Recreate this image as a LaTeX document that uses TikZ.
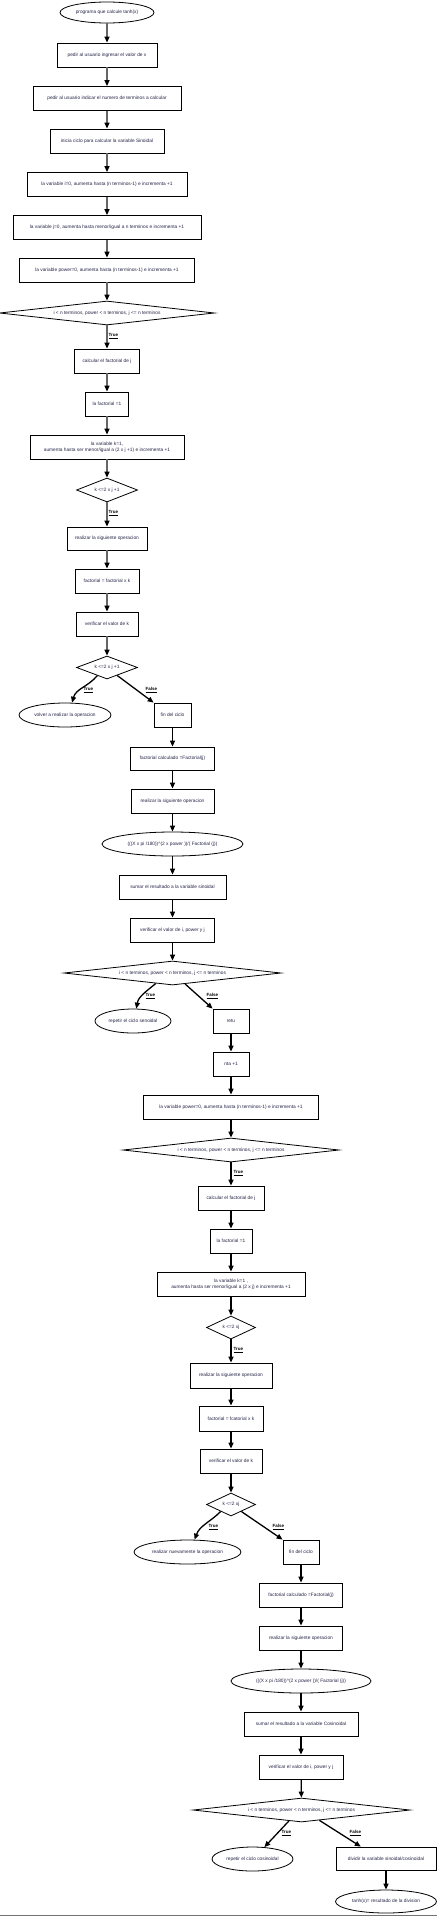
\documentclass[tikz,border=0pt]{standalone}
\usepackage{fontspec}
\setmainfont{Liberation Sans}
\usetikzlibrary{shapes.geometric,arrows.meta,calc}
\definecolor{txt}{RGB}{35,35,70}
\begin{document}
\begin{tikzpicture}[x=1pt,y=-1pt,
  every node/.style={font=\fontsize{4.8}{5.8}\selectfont, text=txt, inner sep=1pt},
  box/.style={draw=black, line width=0.8pt, rectangle, minimum height=24pt},
  oval/.style={draw=black, line width=0.8pt, ellipse, minimum height=24pt, inner sep=0pt},
  dia/.style={draw=black, line width=0.8pt, diamond, minimum height=24pt, inner sep=0pt, shape aspect=9},
  arr/.style={line width=1.3pt, draw=black, -{Triangle[length=6pt,width=5pt,color=black]}},
  garr/.style={arr, draw=black!60},
  lbl/.style={font=\fontsize{4.5}{5}\selectfont\bfseries, text=black, inner sep=0.5pt, anchor=west}
]
\useasboundingbox (0,0) rectangle (437,1917);

% column 1
\node[oval, minimum width=94pt, minimum height=21pt] (n1) at (107,12.5) {programa que calcule tanh(x)};
\node[box, minimum width=100pt] (n2) at (107,55) {pedir al usuario ingresar el valor de x};
\node[box, minimum width=148pt] (n3) at (107,98.5) {pedir al usuario indicar el numero de terminos a calcular};
\node[box, minimum width=114pt] (n4) at (107,141) {inicia ciclo para calcular la variable Sinoidal};
\node[box, minimum width=160pt] (n5) at (107,184.5) {la variable i=0, aumenta hasta (n terminos-1) e incrementa +1};
\node[box, minimum width=188pt] (n6) at (107,227.5) {la variable j=0, aumenta hasta menor/igual a n terminos e incrementa +1};
\node[box, minimum width=175pt] (n7) at (107,270) {la variable power=0, aumenta hasta (n terminos-1) e incrementa +1};
\node[dia, minimum width=215pt] (d1) at (107,313) {i < n terminos, power < n terminos, j <= n terminos};
\node[box, minimum width=65pt] (n8) at (107,361) {calcular el factorial de j};
\node[box, minimum width=43pt] (n9) at (107,404) {la factorial =1};
\node[box, minimum width=154pt, align=center] (n10) at (107,447) {la variable k=1,\\ aumenta hasta ser menor/igual a (2 x j +1) e incrementa +1};
\node[dia, minimum width=61pt, shape aspect=2.5] (d2) at (107,490) {k <=2 x j +1};
\node[box, minimum width=80pt, minimum height=23pt] (n11) at (107,538.5) {realizar la siguiente operacion};
\node[box, minimum width=64pt] (n12) at (107,581) {factorial = factorial x k};
\node[box, minimum width=62pt] (n13) at (107,624) {verificar el valor de k};
\node[dia, minimum width=61pt, minimum height=23pt, shape aspect=2.5] (d3) at (107,667.5) {k <=2 x j +1};
\node[oval, minimum width=92pt] (o1) at (65,715) {volver a realizar la operacion};

% column 2
\node[box, minimum width=37pt] (n14) at (172.5,715) {fin del ciclo};
\node[box, minimum width=84pt, minimum height=23pt] (n15) at (172.5,758.5) {factorial calculado =Factorial(j)};
\node[box, minimum width=83pt] (n16) at (172.5,801) {realizar la siguiente operacion};
\node[oval, minimum width=141pt] (o2) at (172.5,844) {(((X x pi /180))\textasciicircum(2 x power ))/( Factorial (j))};
\node[box, minimum width=107pt] (n17) at (172.5,887) {sumar el resultado a la variable sinoidal};
\node[box, minimum width=84pt] (n18) at (172.5,930) {verificar el valor de i, power y j};
\node[dia, minimum width=217pt] (d4) at (172.5,973) {i < n terminos, power < n terminos, j <= n terminos};
\node[oval, minimum width=76pt] (o3) at (133,1021) {repetir el ciclo senoidal};

% column 3
\node[box, minimum width=36pt] (n19) at (231,1021) {retu};
\node[box, minimum width=36pt] (n20) at (231,1064) {nta +1};
\node[box, minimum width=175pt] (n21) at (231,1107) {la variable power=0, aumenta hasta (n terminos-1) e incrementa +1};
\node[dia, minimum width=216pt] (d5) at (231,1150) {i < n terminos, power < n terminos, j <= n terminos};
\node[box, minimum width=66pt] (n22) at (231,1198) {calcular el factorial de j};
\node[box, minimum width=42pt] (n23) at (231,1241) {la factorial =1};
\node[box, minimum width=148pt, align=center] (n24) at (231,1284) {la variable k=1 ,\\ aumenta hasta ser menor/igual a (2 x j) e incrementa +1};
\node[dia, minimum width=49pt, minimum height=23pt, shape aspect=2] (d6) at (231,1327.5) {k <=2 xj};
\node[box, minimum width=82pt, minimum height=25pt] (n25) at (231,1375.5) {realizar la siguiente operacion};
\node[box, minimum width=64pt, minimum height=25pt] (n26) at (231,1418.5) {factorial = fcatorial x k};
\node[box, minimum width=62pt] (n27) at (231,1461) {verificar el valor de k};
\node[dia, minimum width=49pt, minimum height=23pt, shape aspect=2] (d7) at (231,1504.5) {k <=2 xj};
\node[oval, minimum width=107pt] (o4) at (187.5,1552) {realizar nuevamente la operacion};

% column 4
\node[box, minimum width=36pt] (n28) at (301,1552) {fin del ciclo};
\node[box, minimum width=83pt] (n29) at (301,1595) {factorial calculado =Factorial(j)};
\node[box, minimum width=83pt] (n30) at (301,1638) {realizar la siguiente operacion};
\node[oval, minimum width=140pt] (o5) at (301,1681) {(((X x pi /180))\textasciicircum(2 x power ))/( Factorial (j))};
\node[box, minimum width=114pt] (n31) at (301,1724) {sumar el resultado a la variable Cosinoidal};
\node[box, minimum width=84pt] (n32) at (301,1767) {verificar el valor de i, power y j};
\node[dia, minimum width=217pt] (d8) at (301.5,1810) {i < n terminos, power < n terminos, j <= n terminos};
\node[oval, minimum width=81pt] (o6) at (252.5,1859) {repetir el ciclo cosinoidal};
\node[box, minimum width=100pt, minimum height=23pt] (n33) at (386,1858.5) {dividir la variable sinoidal/cosinoidal};
\node[oval, minimum width=101pt, minimum height=23pt] (o7) at (386,1901.5) {tanh(x)= resultado de la division};

% labels
\node[lbl] (l1) at (108,336) {\underline{True}};
\node[lbl] (l2) at (108,513) {\underline{True}};
\node[lbl] (l3) at (83,690) {\underline{True}};
\node[lbl] (l4) at (145,690) {\underline{False}};
\node[lbl] (l5) at (145,996) {\underline{True}};
\node[lbl] (l6) at (206,996) {\underline{False}};
\node[lbl] (l7) at (233,1173) {\underline{True}};
\node[lbl] (l8) at (233,1350) {\underline{True}};
\node[lbl] (l9) at (208,1527) {\underline{True}};
\node[lbl] (l10) at (272,1527) {\underline{False}};
\node[lbl] (l11) at (281,1833) {\underline{True}};
\node[lbl] (l12) at (349,1833) {\underline{False}};

% connectors column 1
\draw[garr] (n1) -- (n2);
\draw[garr] (n2) -- (n3);
\draw[garr] (n3) -- (n4);
\draw[garr] (n4) -- (n5);
\draw[garr] (n5) -- (n6);
\draw[garr] (n6) -- (n7);
\draw[garr] (n7) -- (d1);
\draw[garr] (d1) -- (n8);
\draw[garr] (n8) -- (n9);
\draw[garr] (n9) -- (n10);
\draw[garr] (n10) -- (d2);
\draw[garr] (d2) -- (n11);
\draw[garr] (n11) -- (n12);
\draw[garr] (n12) -- (n13);
\draw[garr] (n13) -- (d3);
\draw[arr] (d3.220) to[out=-130,in=75] (o1.60);
\draw[arr] (d3.322) -- (n14.north west);
% column 2
\draw[arr] (n14) -- (n15);
\draw[arr] (n15) -- (n16);
\draw[arr] (n16) -- (o2);
\draw[arr] (o2) -- (n17);
\draw[arr] (n17) -- (n18);
\draw[arr] (n18) -- (d4);
\draw[arr] (d4.212) to[out=-140,in=80] (o3.75);
\draw[arr] (d4.319) -- (n19.north west);
% column 3
\draw[arr] (n19) -- (n20);
\draw[arr] (n20) -- (n21);
\draw[arr] (n21) -- (d5);
\draw[arr] (d5) -- (n22);
\draw[arr] (n22) -- (n23);
\draw[arr] (n23) -- (n24);
\draw[arr] (n24) -- (d6);
\draw[arr] (d6) -- (n25);
\draw[arr] (n25) -- (n26);
\draw[arr] (n26) -- (n27);
\draw[arr] (n27) -- (d7);
\draw[arr] (d7.214) to[out=-135,in=70] (o4.60);
\draw[arr] (d7.326) -- (n28.north west);
% column 4
\draw[arr] (n28) -- (n29);
\draw[arr] (n29) -- (n30);
\draw[arr] (n30) -- (o5);
\draw[arr] (o5) -- (n31);
\draw[arr] (n31) -- (n32);
\draw[arr] (n32) -- (d8);
\draw[arr] (d8.221) -- (o6.45);
\draw[arr] (d8.330) -- ($(n33.north west)!0.25!(n33.north east)$);
\draw[arr] (n33) -- (o7);

% bottom rule
\coordinate (bl) at (0,1915.5);
\coordinate (br) at (437,1915.5);
\draw[black!55, line width=1pt] (bl) -- (br);
\end{tikzpicture}
\end{document}
